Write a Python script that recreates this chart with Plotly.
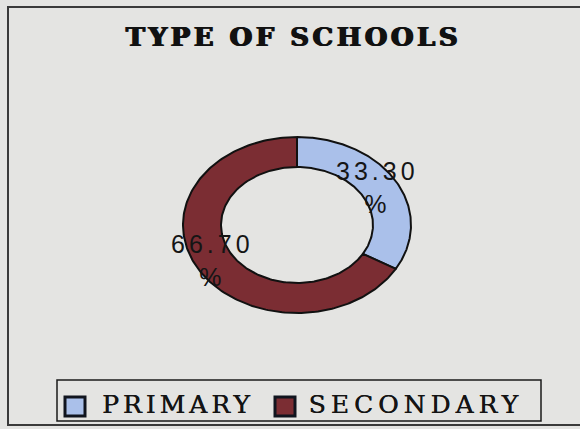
import numpy as np
import plotly.graph_objects as go

# Data
categories = ["PRIMARY", "SECONDARY"]
shares = [33.30, 66.70]
slice_labels = ["33.30", "66.70"]
colors = ["#aac0ea", "#7b2d33"]

title_text = "TYPE OF SCHOOLS"

# Ring geometry in page units (axes map 1 unit = 1 px)
W, H = 580, 429
cx, cy = 297, 225
rx_out, ry_out = 114, 88
rx_in, ry_in = 76, 58

fig = go.Figure()

total = sum(shares)
start = 0.0
label_pos = []
for name, val, col in zip(categories, shares, colors):
    sweep = 360.0 * val / total
    a = np.radians(np.linspace(start, start + sweep, 200))
    xo = cx + rx_out * np.sin(a)
    yo = cy - ry_out * np.cos(a)
    xi = cx + rx_in * np.sin(a[::-1])
    yi = cy - ry_in * np.cos(a[::-1])
    xs = np.concatenate([xo, xi, xo[:1]])
    ys = np.concatenate([yo, yi, yo[:1]])
    fig.add_trace(go.Scatter(
        x=xs, y=ys, mode="lines", fill="toself", fillcolor=col,
        line=dict(color="#111111", width=2), name=name,
        showlegend=False, hoverinfo="name",
    ))
    mid = np.radians(start + sweep / 2)
    label_pos.append((cx + (rx_out + rx_in) / 2 * np.sin(mid),
                      cy - (ry_out + ry_in) / 2 * np.cos(mid)))
    start += sweep

# Slice value labels (annotation indices 0, 1)
for (lx, ly), txt in zip(label_pos, slice_labels):
    fig.add_annotation(
        x=lx - 2, y=ly - 1, text=f"{txt}<br>%", showarrow=False,
        font=dict(family="Liberation Sans, Arial, sans-serif", size=25, color="#151515"),
        align="center", xanchor="center", yanchor="middle",
    )

shapes = [
    # outer frame
    dict(type="rect", x0=8, y0=7, x1=590, y1=425,
         line=dict(color="#3a3a3a", width=2), fillcolor="rgba(0,0,0,0)", layer="below"),
    # legend box
    dict(type="rect", x0=57, y0=380, x1=541, y1=421,
         line=dict(color="#1a1a1a", width=1.5), fillcolor="rgba(0,0,0,0)"),
]

# Legend swatches and labels (annotation indices 2, 3)
swatch_x = [65, 275]
text_cx = [178, 416]
for sx, tx, name, col in zip(swatch_x, text_cx, categories, colors):
    shapes.append(dict(type="rect", x0=sx, y0=397, x1=sx + 20, y1=416,
                       line=dict(color="#10141e", width=3), fillcolor=col))
    fig.add_annotation(
        x=tx, y=404, text=name, showarrow=False, xanchor="center", yanchor="middle",
        font=dict(family="DejaVu Serif, serif", size=25, color="#141414",
                  shadow="0.4px 0 0 #141414"),
    )

# Title (annotation index 4)
fig.add_annotation(
    x=293, y=37, text=f"<b>{title_text}</b>", showarrow=False,
    xanchor="center", yanchor="middle",
    font=dict(family="DejaVu Serif, serif", size=26, color="#111111",
              shadow="0.8px 0 0 #111111, -0.8px 0 0 #111111"),
)

fig.update_layout(
    width=W, height=H,
    margin=dict(l=0, r=0, t=0, b=0),
    paper_bgcolor="#e4e4e2",
    plot_bgcolor="#e4e4e2",
    shapes=shapes,
    showlegend=False,
    xaxis=dict(range=[0, W], visible=False, fixedrange=True),
    yaxis=dict(range=[H, 0], visible=False, fixedrange=True),
)

# Widen the tracking of the text labels once the plot is drawn
spacing_js = """
var gd = document.getElementById('{plot_id}');
var sp = {0: '4px', 1: '4px', 2: '4px', 3: '5px', 4: '3.5px'};
gd.querySelectorAll('g.annotation').forEach(function (g) {
  var i = g.getAttribute('data-index');
  if (sp[i] !== undefined) {
    g.querySelectorAll('text').forEach(function (t) {
      t.style.letterSpacing = sp[i];
    });
  }
});
"""

fig.write_html("out.html", config={"displayModeBar": False}, post_script=spacing_js)
